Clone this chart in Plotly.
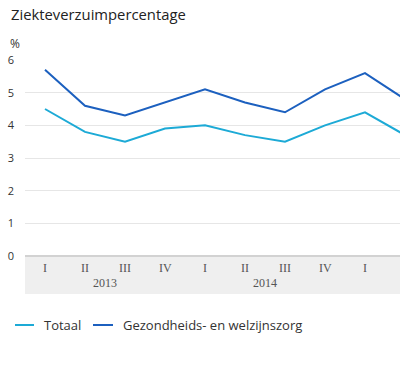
import plotly.graph_objects as go

quarters = ["I", "II", "III", "IV", "I", "II", "III", "IV", "I", "II"]
years = ["2013", "2014"]
year_pos = [1.5, 5.5]
totaal = [4.5, 3.8, 3.5, 3.9, 4.0, 3.7, 3.5, 4.0, 4.4, 3.7]
gezond = [5.7, 4.6, 4.3, 4.7, 5.1, 4.7, 4.4, 5.1, 5.6, 4.8]
names = ["Totaal", "Gezondheids- en welzijnszorg"]
colors = ["#1daad6", "#1c60bf"]
xs = list(range(len(quarters)))

W, H = 400, 365
L, R, T, B = 25, 0, 60, 109
ph = H - T - B
pw = W - L - R

SANS = "Open Sans, sans-serif"
SERIF = "Liberation Serif, serif"

def px_x(px):
    return (px - L) / pw

def px_y(py):
    return (H - B - py) / ph

fig = go.Figure()
for vals, nm, c in zip([totaal, gezond], names, colors):
    fig.add_trace(go.Scatter(x=xs, y=vals, mode="lines", name=nm,
                             line=dict(color=c, width=2), showlegend=False,
                             hoverinfo="skip"))

fig.add_shape(type="rect", xref="paper", yref="paper", x0=0, x1=1, y0=px_y(294), y1=0,
              fillcolor="#efefef", line=dict(width=0), layer="below")
fig.add_shape(type="line", xref="paper", yref="paper", x0=0, x1=1, y0=0, y1=0,
              line=dict(color="#d2d2d2", width=2))

for i, q in enumerate(quarters):
    fig.add_annotation(x=xs[i], y=px_y(268), xref="x", yref="paper", text=q,
                       showarrow=False, font=dict(family=SERIF, size=12, color="#555555"),
                       yanchor="middle")
for p, yr in zip(year_pos, years):
    fig.add_annotation(x=p, y=px_y(283), xref="x", yref="paper", text=yr,
                       showarrow=False, font=dict(family=SERIF, size=12, color="#555555"),
                       yanchor="middle")

fig.add_annotation(x=px_x(9), y=px_y(14), xref="paper", yref="paper", xanchor="left",
                   yanchor="middle", text="Ziekteverzuimpercentage", showarrow=False,
                   font=dict(family=SANS, size=14.8, color="#222"))
fig.add_annotation(x=px_x(8), y=px_y(44), xref="paper", yref="paper", xanchor="left",
                   yanchor="middle", text="%", showarrow=False,
                   font=dict(family=SANS, size=12, color="#333"))

# manual legend
leg_y = 325
leg_items = [(15, 34, 42), (93, 113, 121)]
for (x0, x1, tx), nm, c in zip(leg_items, names, colors):
    fig.add_shape(type="line", xref="paper", yref="paper", x0=px_x(x0), x1=px_x(x1),
                  y0=px_y(leg_y), y1=px_y(leg_y), line=dict(color=c, width=2))
    fig.add_annotation(x=px_x(tx), y=px_y(leg_y), xref="paper", yref="paper",
                       xanchor="left", yanchor="middle", text=nm, showarrow=False,
                       font=dict(family=SANS, size=13, color="#333"))

fig.update_layout(
    width=W, height=H,
    margin=dict(l=L, r=R, t=T, b=B, autoexpand=False),
    plot_bgcolor="white", paper_bgcolor="white",
    showlegend=False,
    hovermode=False,
    xaxis=dict(range=[-0.5, 8.875], showgrid=False, zeroline=False, showticklabels=False,
               showline=False, fixedrange=True, automargin=False),
    yaxis=dict(range=[0, 6], tickvals=[0, 1, 2, 3, 4, 5, 6], showgrid=True,
               gridcolor="#e6e6e6", gridwidth=1, zeroline=False, showline=False,
               ticklabelstandoff=10, automargin=False, fixedrange=True,
               tickfont=dict(family=SANS, size=11, color="#333")),
)

fig.write_html("out.html", config={"displayModeBar": False, "staticPlot": True},
               post_script="document.body.style.margin='0';document.body.style.overflow='hidden';")
